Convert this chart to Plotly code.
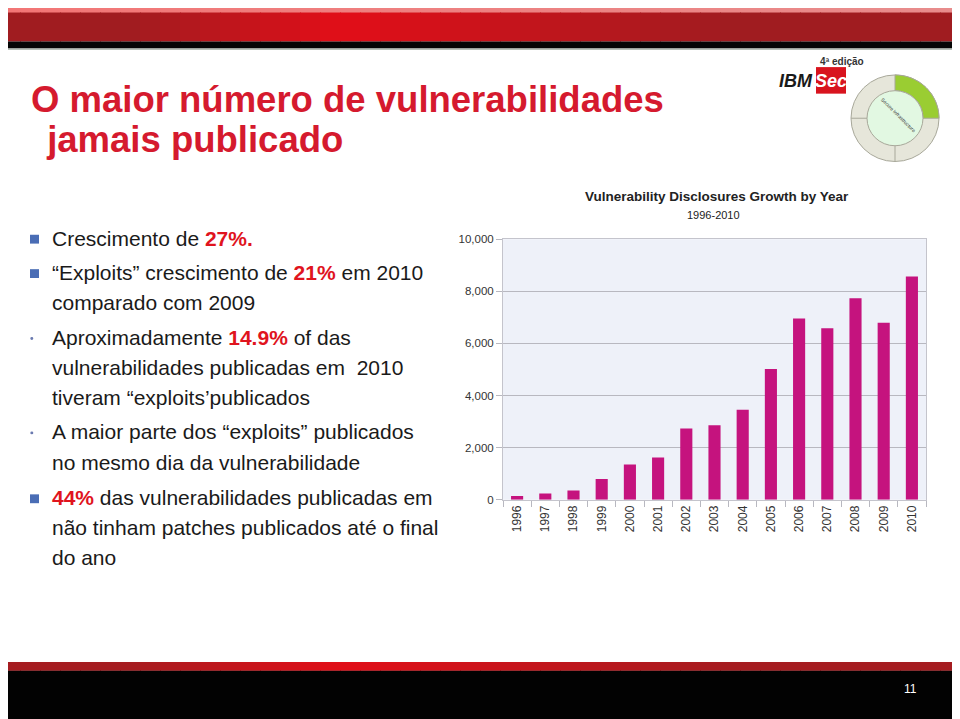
import math
import plotly.graph_objects as go

# ---------------- data ----------------
years = ["1996", "1997", "1998", "1999", "2000", "2001", "2002", "2003",
         "2004", "2005", "2006", "2007", "2008", "2009", "2010"]
disclosures = [140, 240, 355, 795, 1350, 1625, 2735, 2860, 3450, 5015,
               6955, 6580, 7735, 6790, 8570]
y_tick_vals = [0, 2000, 4000, 6000, 8000, 10000]
y_tick_text = ["0", "2,000", "4,000", "6,000", "8,000", "10,000"]

chart_title = "Vulnerability Disclosures Growth by Year"
chart_subtitle = "1996-2010"
slide_title_1 = "O maior número de vulnerabilidades"
slide_title_2 = " jamais publicado"

W, H = 960, 719
OX, OY = 8, 8  # page body margin of the html page


def px(x):
    return (x - OX) / W


def py(y):
    return 1 - (y - OY) / H


RED = "#e0141e"
TXT = "#1a1a1a"
SANS = "Liberation Sans, Arial, sans-serif"

fig = go.Figure()
fig.add_trace(go.Bar(
    x=years, y=disclosures, marker=dict(color="#c5137e", line=dict(width=0)),
    hoverinfo="x+y",
))

shapes = []
annotations = []


def lerp(c1, c2, t):
    return "#%02x%02x%02x" % tuple(int(round(a + (b - a) * t)) for a, b in zip(c1, c2))


def gradient_band(y0, y1, dark, bright, centre=340, n=48):
    for i in range(n):
        x0 = W * i / n
        x1 = W * (i + 1) / n
        xc = (x0 + x1) / 2
        d = abs(xc - centre) / (W - centre if xc > centre else centre)
        t = max(0.0, 1 - d * 1.6)
        shapes.append(dict(type="rect", xref="paper", yref="paper",
                           x0=px(x0), x1=px(x1) + 0.001, y0=py(y1), y1=py(y0),
                           fillcolor=lerp(dark, bright, t), line=dict(width=0), layer="below"))


# top banner
for i in range(24):
    x0 = W * i / 24
    x1 = W * (i + 1) / 24
    t = i / 23
    shapes.append(dict(type="rect", xref="paper", yref="paper",
                       x0=px(x0), x1=px(x1) + 0.001, y0=py(7), y1=py(0),
                       fillcolor=lerp((242, 118, 118), (232, 140, 140), t),
                       line=dict(width=0), layer="below"))
gradient_band(6.5, 36, (160, 28, 32), (226, 14, 24))
shapes.append(dict(type="rect", xref="paper", yref="paper", x0=0, x1=1,
                   y0=py(43), y1=py(36), fillcolor="#050505", line=dict(width=0), layer="below"))
shapes.append(dict(type="rect", xref="paper", yref="paper", x0=0, x1=1,
                   y0=py(44.5), y1=py(43), fillcolor="#b8c0b8", line=dict(width=0), layer="below"))

# bottom banner
gradient_band(667, 676, (165, 28, 32), (226, 14, 24), centre=340)
shapes.append(dict(type="rect", xref="paper", yref="paper", x0=0, x1=1,
                   y0=0, y1=py(676), fillcolor="#020202", line=dict(width=0), layer="below"))
annotations.append(dict(x=px(910), y=py(694), xref="paper", yref="paper", text="11",
                        showarrow=False, font=dict(color="white", size=12, family=SANS),
                        xanchor="center", yanchor="middle"))

# logo
cx, cy, R, r = 895, 114, 44, 28
shapes.append(dict(type="circle", xref="paper", yref="paper",
                   x0=px(cx - R), x1=px(cx + R), y0=py(cy + R), y1=py(cy - R),
                   fillcolor="#e6e6da", line=dict(color="#a8a89a", width=1)))
pts = []
for k in range(0, 31):
    a = math.radians(90 - 90 * k / 30)
    pts.append((cx + R * math.cos(a), cy - R * math.sin(a)))
for k in range(30, -1, -1):
    a = math.radians(90 - 90 * k / 30)
    pts.append((cx + r * math.cos(a), cy - r * math.sin(a)))
path = "M " + " L ".join("%.5f,%.5f" % (px(x), py(y)) for x, y in pts) + " Z"
shapes.append(dict(type="path", xref="paper", yref="paper", path=path,
                   fillcolor="#9acd32", line=dict(color="#a8a89a", width=1)))
shapes.append(dict(type="circle", xref="paper", yref="paper",
                   x0=px(cx - r), x1=px(cx + r), y0=py(cy + r), y1=py(cy - r),
                   fillcolor="#e2f8e2", line=dict(color="#a8a89a", width=1)))
shapes.append(dict(type="line", xref="paper", yref="paper",
                   x0=px(cx), x1=px(cx), y0=py(cy + r), y1=py(cy + R),
                   line=dict(color="#a8a89a", width=1)))
shapes.append(dict(type="line", xref="paper", yref="paper",
                   x0=px(cx - R), x1=px(cx - r), y0=py(cy), y1=py(cy),
                   line=dict(color="#a8a89a", width=1)))
annotations.append(dict(x=px(cx + 25), y=py(cy - 25), xref="paper", yref="paper",
                        text="Secure infrastructure", textangle=45, showarrow=False,
                        font=dict(size=5, color="#333", family=SANS)))
shapes.append(dict(type="rect", xref="paper", yref="paper",
                   x0=px(816), x1=px(846), y0=py(89), y1=py(62),
                   fillcolor="#d8141e", line=dict(width=0)))
annotations.append(dict(x=px(831), y=py(76), xref="paper", yref="paper",
                        text="<b><i>Sec</i></b>", showarrow=False,
                        font=dict(size=18, color="white", family=SANS),
                        xanchor="center", yanchor="middle"))
annotations.append(dict(x=px(815), y=py(76), xref="paper", yref="paper",
                        text="<b><i>IBM</i></b>", showarrow=False,
                        font=dict(size=18, color="#1a1a1a", family=SANS),
                        xanchor="right", yanchor="middle"))
annotations.append(dict(x=px(842), y=py(56), xref="paper", yref="paper",
                        text="<b>4ª edição</b>", showarrow=False,
                        font=dict(size=10, color="#333", family=SANS),
                        xanchor="center", yanchor="middle"))

# slide title
annotations.append(dict(x=px(29), y=py(95), xref="paper", yref="paper",
                        text="<b>" + slide_title_1 + "</b>", showarrow=False,
                        font=dict(size=36.5, color="#d51a2e", family=SANS),
                        xanchor="left", yanchor="middle"))
annotations.append(dict(x=px(35), y=py(136), xref="paper", yref="paper",
                        text="<b>" + slide_title_2 + "</b>", showarrow=False,
                        font=dict(size=36.5, color="#d51a2e", family=SANS),
                        xanchor="left", yanchor="middle"))


def red(s):
    return "<b><span style='color:%s'>%s</span></b>" % (RED, s)


lines = [
    (236, "Crescimento de " + red("27%.")),
    (271, "“Exploits” crescimento de " + red("21%") + " em 2010"),
    (301, "comparado com 2009"),
    (337, "Aproximadamente " + red("14.9%") + " of das"),
    (368, "vulnerabilidades publicadas em  2010"),
    (398, "tiveram “exploits’publicados"),
    (433, "A maior parte dos “exploits” publicados"),
    (464, "no mesmo dia da vulnerabilidade"),
    (500, red("44%") + " das vulnerabilidades publicadas em"),
    (530, "não tinham patches publicados até o final"),
    (561, "do ano"),
]
for yy, t in lines:
    annotations.append(dict(x=px(50), y=py(yy), xref="paper", yref="paper", text=t,
                            showarrow=False, font=dict(size=21, color=TXT, family=SANS),
                            xanchor="left", yanchor="middle"))
for yy in (237, 272, 501):
    shapes.append(dict(type="rect", xref="paper", yref="paper",
                       x0=px(30), x1=px(39), y0=py(yy + 4.5), y1=py(yy - 4.5),
                       fillcolor="#4a6db5", line=dict(width=0)))
for yy in (338, 434):
    shapes.append(dict(type="circle", xref="paper", yref="paper",
                       x0=px(30.3), x1=px(33.3), y0=py(yy + 1.5), y1=py(yy - 1.5),
                       fillcolor="#6a7ab0", line=dict(width=0)))

# chart title
annotations.append(dict(x=px(717), y=py(194), xref="paper", yref="paper",
                        text="<b>" + chart_title + "</b>", showarrow=False,
                        font=dict(size=13.5, color="#222", family=SANS),
                        xanchor="center", yanchor="middle"))
annotations.append(dict(x=px(713), y=py(212), xref="paper", yref="paper",
                        text=chart_subtitle, showarrow=False,
                        font=dict(size=11, color="#222", family=SANS),
                        xanchor="center", yanchor="middle"))

fig.update_layout(
    width=W, height=H,
    margin=dict(l=0, r=0, t=0, b=0),
    paper_bgcolor="white",
    plot_bgcolor="#eef1f9",
    showlegend=False,
    bargap=0.57,
    shapes=shapes,
    annotations=annotations,
    xaxis=dict(domain=[px(503), px(926)], type="category", tickangle=-90,
               tickfont=dict(size=12, color="#333", family=SANS),
               ticks="outside", tickson="boundaries", ticklen=6, tickcolor="#b8b8c0",
               showline=True, linecolor="#c4c4cc", linewidth=1, mirror=True,
               showgrid=False),
    yaxis=dict(domain=[py(502), py(237)], range=[0, 10000],
               tickvals=y_tick_vals, ticktext=y_tick_text,
               tickfont=dict(size=11.5, color="#333", family=SANS),
               ticks="outside", ticklen=6, tickcolor="#b8b8c0",
               showgrid=True, gridcolor="#b8b8c0", gridwidth=1,
               showline=True, linecolor="#c4c4cc", linewidth=1, mirror=True,
               zeroline=False),
)

fig.write_html("out.html")
